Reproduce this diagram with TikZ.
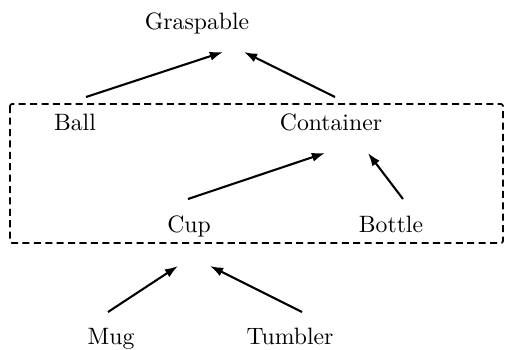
\documentclass[tikz,border=0pt]{standalone}
\usetikzlibrary{arrows.meta}
\begin{document}
\begin{tikzpicture}[x=0.456pt,y=-0.456pt,
  lbl/.style={anchor=base,inner sep=0pt,font=\fontsize{10.8}{13}\selectfont},
  isa/.style={-{Latex[length=6pt,width=4.2pt]},line width=0.95pt},
  grp/.style={dash pattern=on 3.2pt off 2pt,line width=0.8pt,rounded corners=1pt}]
\useasboundingbox (0,0) rectangle (505,349);
\node[lbl] (grasp) at (197,29) {Graspable};
\node[lbl] (ball) at (75,130) {Ball};
\node[lbl] (cont) at (331,130) {Container};
\node[lbl] (cup) at (189,232) {Cup};
\node[lbl] (bottle) at (391,232) {Bottle};
\node[lbl] (mug) at (111,344) {Mug};
\node[lbl] (tumb) at (290,344) {Tumbler};
\draw[grp] (10,104) rectangle (503,243);
\coordinate (b1) at (86,97);   \coordinate (g1) at (223,52);
\coordinate (c1) at (335,97);  \coordinate (g2) at (244,52);
\coordinate (u1) at (188,199); \coordinate (k1) at (325,153);
\coordinate (o1) at (403,199); \coordinate (k2) at (368,153);
\coordinate (m1) at (108,312); \coordinate (p1) at (178,266);
\coordinate (t1) at (302,312); \coordinate (p2) at (210,266);
\draw[isa] (b1) -- (g1);
\draw[isa] (c1) -- (g2);
\draw[isa] (u1) -- (k1);
\draw[isa] (o1) -- (k2);
\draw[isa] (m1) -- (p1);
\draw[isa] (t1) -- (p2);
\end{tikzpicture}
\end{document}
